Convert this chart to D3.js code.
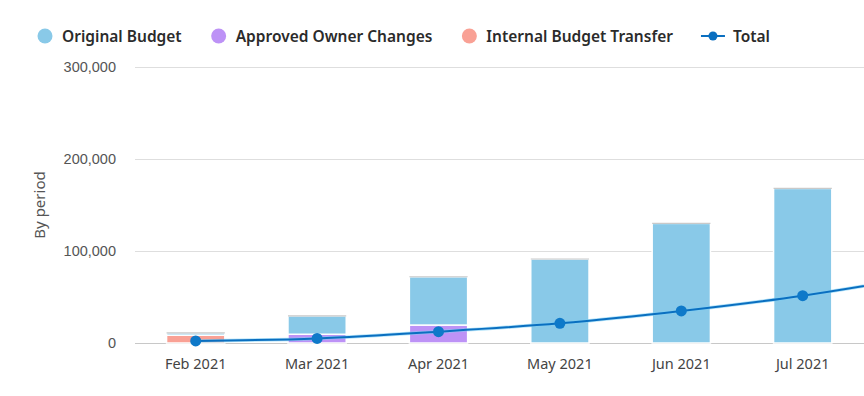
<!DOCTYPE html>
<html>
<head>
<meta charset="utf-8">
<script src="https://cdn.jsdelivr.net/npm/d3@7"></script>
<style>
    body { margin: 0; background: #fff; }
    svg { display: block; font-family: "Noto Sans", "Open Sans", sans-serif; }
</style>
</head>
<body>
<div id="chart"></div>
<script>
// chart values
const months = ["Feb 2021", "Mar 2021", "Apr 2021", "May 2021", "Jun 2021", "Jul 2021", "Aug 2021"];
const internalTransfer = [8500, 0, 0, 0, 0, 0, 0];
const approvedChanges = [0, 9500, 19500, 0, 0, 0, 0];
const originalBudget = [2500, 20000, 52500, 91300, 130000, 168000, 205000];
const totals = [2200, 5000, 12300, 21400, 34800, 51400, 73000];
const yTicks = [0, 100000, 200000, 300000];

const seriesKeys = ["internal", "approved", "original"];
const seriesNames = {
    original: "Original Budget",
    approved: "Approved Owner Changes",
    internal: "Internal Budget Transfer"
};
const colors = {
    original: "#89c9e8",
    approved: "#bd92f6",
    internal: "#f9a195",
    total: "#0a6fc0"
};

const width = 864, height = 396;
const margin = {top: 67, left: 135, bottom: 53};
const step = 121.4;

const svg = d3.select("#chart").append("svg")
    .attr("width", width)
    .attr("height", height);

const x = d3.scaleBand()
    .domain(months)
    .range([margin.left, margin.left + step * months.length])
    .paddingInner(0.52)
    .paddingOuter(0.26);

const y = d3.scaleLinear()
    .domain([0, 300000])
    .range([height - margin.bottom, margin.top]);

const center = m => x(m) + x.bandwidth() / 2;

// grid + y labels
const yAxis = svg.append("g")
    .attr("transform", "translate(" + margin.left + ",0)")
    .call(d3.axisLeft(y).tickValues(yTicks).tickSize(0).tickPadding(19)
        .tickFormat(d3.format(",")));
yAxis.select(".domain").remove();
yAxis.selectAll("text")
    .attr("fill", "#555")
    .style("font-size", "14.5px");

svg.append("g")
    .selectAll("line")
    .data(yTicks)
    .join("line")
    .attr("x1", margin.left)
    .attr("x2", width)
    .attr("y1", d => y(d) + 0.5)
    .attr("y2", d => y(d) + 0.5)
    .attr("stroke", d => d === 0 ? "#c8c8c8" : "#dedede")
    .attr("stroke-width", 1);

svg.append("text")
    .attr("transform", "translate(45," + (y(150000)) + ") rotate(-90)")
    .attr("text-anchor", "middle")
    .attr("fill", "#555")
    .style("font-size", "15px")
    .text("By period");

// stacked bars
const rows = months.map((m, i) => ({
    month: m,
    internal: internalTransfer[i],
    approved: approvedChanges[i],
    original: originalBudget[i]
}));
const stacked = d3.stack().keys(seriesKeys)(rows);

svg.append("g")
    .selectAll("g")
    .data(stacked)
    .join("g")
    .attr("fill", d => colors[d.key])
    .selectAll("rect")
    .data(d => d.filter(s => s[1] > s[0]))
    .join("rect")
    .attr("x", d => x(d.data.month))
    .attr("width", x.bandwidth())
    .attr("y", d => y(d[1]))
    .attr("height", d => y(d[0]) - y(d[1]))
    .attr("stroke", "#fff")
    .attr("stroke-width", 1.5);

// thin grey cap on top of every stack
svg.append("g")
    .selectAll("line")
    .data(rows)
    .join("line")
    .attr("x1", d => x(d.month))
    .attr("x2", d => x(d.month) + x.bandwidth())
    .attr("y1", d => y(d.internal + d.approved + d.original))
    .attr("y2", d => y(d.internal + d.approved + d.original))
    .attr("stroke", "#c9c9c9")
    .attr("stroke-width", 1.2);

// x labels (only those inside the visible window)
svg.append("g")
    .selectAll("text")
    .data(months.filter(m => center(m) < width))
    .join("text")
    .attr("x", d => center(d))
    .attr("y", 369)
    .attr("text-anchor", "middle")
    .attr("fill", "#444")
    .style("font-size", "14.5px")
    .text(d => d);

// total line
const totalPts = months.map((m, i) => ({month: m, value: totals[i]}));
const line = d3.line()
    .x(d => center(d.month))
    .y(d => y(d.value))
    .curve(d3.curveMonotoneX);

svg.append("path")
    .datum(totalPts)
    .attr("d", line)
    .attr("fill", "none")
    .attr("stroke", "#7fd0f5")
    .attr("stroke-opacity", 0.6)
    .attr("stroke-width", 3.5);

svg.append("path")
    .datum(totalPts)
    .attr("d", line)
    .attr("fill", "none")
    .attr("stroke", colors.total)
    .attr("stroke-width", 2);

svg.append("g")
    .selectAll("circle")
    .data(totalPts)
    .join("circle")
    .attr("cx", d => center(d.month))
    .attr("cy", d => y(d.value))
    .attr("r", 5.5)
    .attr("fill", "#0e79c9");

// legend
const legend = svg.append("g").attr("transform", "translate(0,36)");
let lx = 38;
["original", "approved", "internal"].forEach(key => {
    legend.append("circle")
        .attr("cx", lx + 7)
        .attr("cy", 0)
        .attr("r", 7.5)
        .attr("fill", colors[key]);
    const t = legend.append("text")
        .attr("x", lx + 24)
        .attr("y", 5.5)
        .attr("fill", "#2b2b2b")
        .style("font-size", "15.5px")
        .style("font-weight", 600)
        .text(seriesNames[key]);
    lx += 24 + t.node().getComputedTextLength() + 30;
});
legend.append("line")
    .attr("x1", lx - 2)
    .attr("x2", lx + 22)
    .attr("y1", 0)
    .attr("y2", 0)
    .attr("stroke", colors.total)
    .attr("stroke-width", 2);
legend.append("circle")
    .attr("cx", lx + 10)
    .attr("cy", 0)
    .attr("r", 4.5)
    .attr("fill", colors.total);
legend.append("text")
    .attr("x", lx + 30)
    .attr("y", 5.5)
    .attr("fill", "#2b2b2b")
    .style("font-size", "15.5px")
    .style("font-weight", 600)
    .text("Total");
</script>
</body>
</html>
